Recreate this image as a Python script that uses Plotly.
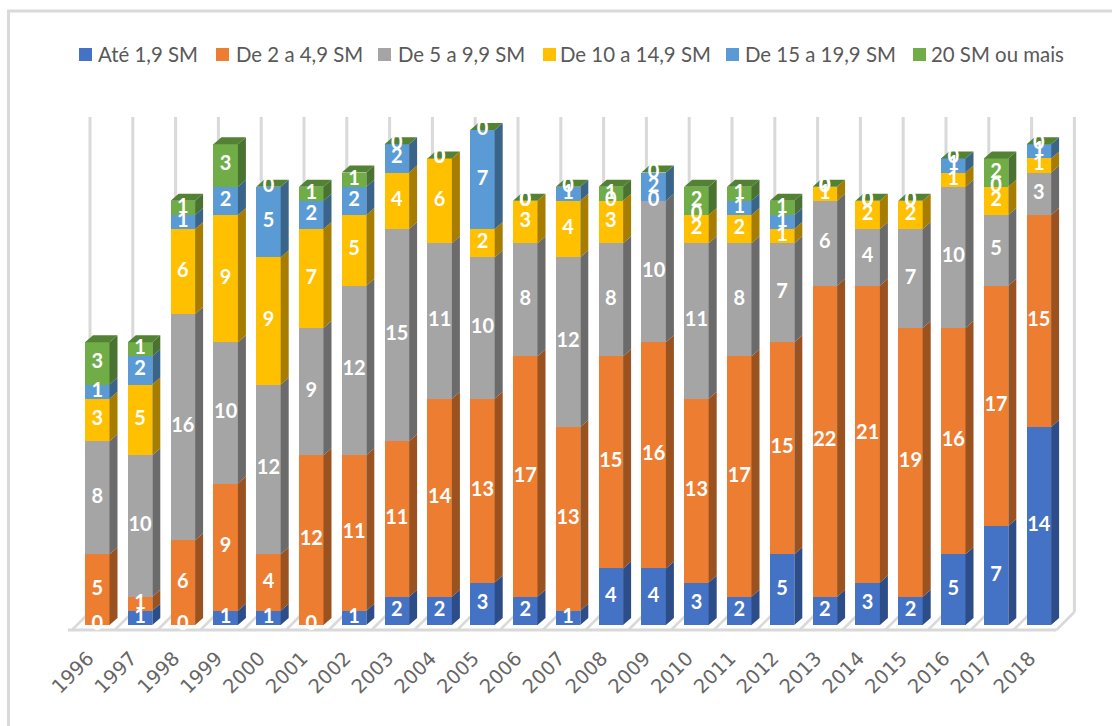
import plotly.graph_objects as go

years = ['1996', '1997', '1998', '1999', '2000', '2001', '2002', '2003', '2004', '2005', '2006', '2007',
         '2008', '2009', '2010', '2011', '2012', '2013', '2014', '2015', '2016', '2017', '2018']

ate_1_9 = [0, 1, 0, 1, 1, 0, 1, 2, 2, 3, 2, 1, 4, 4, 3, 2, 5, 2, 3, 2, 5, 7, 14]
de_2_4_9 = [5, 1, 6, 9, 4, 12, 11, 11, 14, 13, 17, 13, 15, 16, 13, 17, 15, 22, 21, 19, 16, 17, 15]
de_5_9_9 = [8, 10, 16, 10, 12, 9, 12, 15, 11, 10, 8, 12, 8, 10, 11, 8, 7, 6, 4, 7, 10, 5, 3]
de_10_14_9 = [3, 5, 6, 9, 9, 7, 5, 4, 6, 2, 3, 4, 3, 0, 2, 2, 1, 1, 2, 2, 1, 2, 1]
de_15_19_9 = [1, 2, 1, 2, 5, 2, 2, 2, 0, 7, 0, 1, 0, 2, 0, 1, 1, 0, 0, 0, 1, 0, 1]
mais_20 = [3, 1, 1, 3, 0, 1, 1, 0, 0, 0, 0, 0, 1, 0, 2, 1, 1, 0, 0, 0, 0, 2, 0]

series = [
    ('Até 1,9 SM', ate_1_9, '#4472C4', '#2C4D87'),
    ('De 2 a 4,9 SM', de_2_4_9, '#ED7D31', '#9A5220'),
    ('De 5 a 9,9 SM', de_5_9_9, '#A5A5A5', '#6B6B6B'),
    ('De 10 a 14,9 SM', de_10_14_9, '#FFC000', '#A67D00'),
    ('De 15 a 19,9 SM', de_15_19_9, '#5B9BD5', '#3B6588'),
    ('20 SM ou mais', mais_20, '#70AD47', '#4A7230'),
]

# where the legend entries start, in pixels
legend_swatch_px = [79, 216, 378, 543, 726, 913]
legend_text_px = [98, 236, 398, 560, 745, 931]

# scale of the picture: pixels per category and per unit of value
PX_X = 42.8
PX_Y = 14.14
BAR_W = 24.5 / PX_X
DEPTH_X = 8 / PX_X
DEPTH_Y = 7 / PX_Y
TOP_GREEN = '#548235'
GRID = '#D9D9D9'
WIDTH = 1112
HEIGHT = 726
PLOT_H = 636

x = list(range(len(years)))

fig = go.Figure()

tops = [0] * len(years)
labels = []
for name, values, color, side in series:
    fig.add_trace(go.Bar(x=x, y=values, name=name, width=BAR_W, marker=dict(color=color, line=dict(width=0)),
                         hoverinfo='skip', showlegend=False))

    # right side face of each segment
    px, py = [], []
    tx, ty = [], []
    for i, v in enumerate(values):
        if v > 0:
            r = i + BAR_W / 2
            px += [r, r + DEPTH_X, r + DEPTH_X, r, r, None]
            py += [tops[i], tops[i] + DEPTH_Y, tops[i] + v + DEPTH_Y, tops[i] + v, tops[i], None]
        tx.append(i)
        ty.append(tops[i] + v / 2)
        tops[i] += v
    fig.add_trace(go.Scatter(x=px, y=py, mode='lines', fill='toself', fillcolor=side, line=dict(width=0),
                             showlegend=False, hoverinfo='skip'))
    labels.append((tx, ty, values))

# green top face, also where the top segment is empty
px, py = [], []
for i, t in enumerate(tops):
    l = i - BAR_W / 2
    r = i + BAR_W / 2
    px += [l, l + DEPTH_X, r + DEPTH_X, r, l, None]
    py += [t, t + DEPTH_Y, t + DEPTH_Y, t, t, None]
fig.add_trace(go.Scatter(x=px, y=py, mode='lines', fill='toself', fillcolor=TOP_GREEN, line=dict(width=0),
                         showlegend=False, hoverinfo='skip'))

# data labels last so no face covers them
for tx, ty, values in labels:
    fig.add_trace(go.Scatter(x=tx, y=ty, mode='text', text=[str(v) for v in values],
                             textfont=dict(family='Lato', size=20, color='white', weight='bold'),
                             showlegend=False, hoverinfo='skip', cliponaxis=False))

# back wall lines and floor
FRONT_0 = (72 - 97.25) / PX_X
BACK_DX = 18 / PX_X
FLOOR_Y = -5 / PX_Y
BACK_Y = 13 / PX_Y
WALL_TOP = 508 / PX_Y
shapes = []
for k in range(len(years) + 1):
    x0 = FRONT_0 + k
    shapes.append(dict(type='line', x0=x0, x1=x0 + BACK_DX, y0=FLOOR_Y, y1=BACK_Y,
                       line=dict(color=GRID, width=2.5), layer='below'))
    shapes.append(dict(type='line', x0=x0 + BACK_DX, x1=x0 + BACK_DX, y0=BACK_Y, y1=WALL_TOP,
                       line=dict(color=GRID, width=3), layer='below'))
shapes.append(dict(type='line', x0=FRONT_0 - 4 / PX_X, x1=FRONT_0 + len(years), y0=FLOOR_Y, y1=FLOOR_Y,
                   line=dict(color=GRID, width=3), layer='below'))
# chart frame, only the top and left edges are in the picture
shapes.append(dict(type='rect', xref='paper', yref='paper', x0=8.5 / WIDTH, x1=1.02, y0=1 - 11 / PLOT_H, y1=-1,
                   line=dict(color=GRID, width=3), layer='below'))

# legend drawn by hand, the swatch sits closer to its text than plotly's legend allows
annotations = []
for (name, values, color, side), sx, tx in zip(series, legend_swatch_px, legend_text_px):
    shapes.append(dict(type='rect', xref='paper', yref='paper', x0=sx / WIDTH, x1=(sx + 13) / WIDTH,
                       y0=1 - 48 / PLOT_H, y1=1 - 61 / PLOT_H, fillcolor=color, line=dict(width=0)))
    annotations.append(dict(xref='paper', yref='paper', x=tx / WIDTH, y=1 - 54.5 / PLOT_H, text=name, showarrow=False,
                            xanchor='left', yanchor='middle', xshift=-2,
                            font=dict(family='Lato', size=20.4, color='#595959')))

fig.update_layout(
    width=WIDTH, height=HEIGHT,
    barmode='stack',
    bargap=0,
    plot_bgcolor='white',
    paper_bgcolor='white',
    margin=dict(l=0, r=0, t=0, b=HEIGHT - PLOT_H, autoexpand=False),
    font=dict(family='Lato', color='#595959'),
    showlegend=False,
    shapes=shapes,
    annotations=annotations,
    xaxis=dict(range=[-97.25 / PX_X, (WIDTH - 97.25) / PX_X], tickmode='array', tickvals=x, ticktext=years,
               tickangle=-45, showgrid=False, zeroline=False, showline=False, ticks='',
               tickfont=dict(family='DejaVu Sans', size=19.5, color='#666666'), ticklabelstandoff=6, ticklabelshift=-9,
               fixedrange=True),
    yaxis=dict(range=[-11 / PX_Y, 625 / PX_Y], visible=False, showgrid=False, zeroline=False, fixedrange=True),
)

fig.write_html("out.html", config=dict(displayModeBar=False),
               post_script="document.body.style.margin='0';document.body.style.overflow='hidden';")
